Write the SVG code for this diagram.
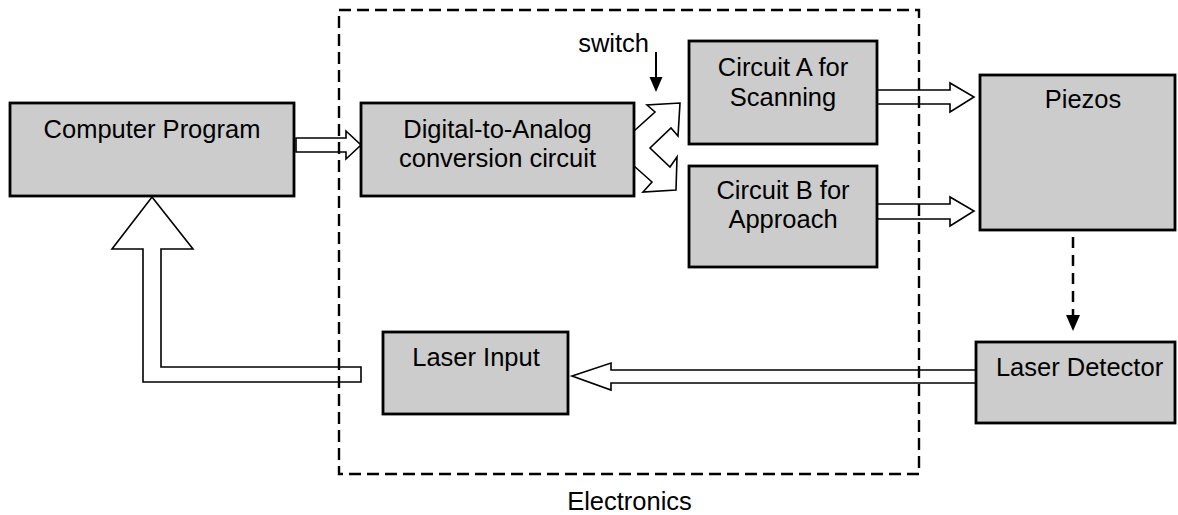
<svg xmlns="http://www.w3.org/2000/svg" width="1178" height="515" viewBox="0 0 1178 515">
<style>
.box{fill:#cccccc;stroke:#000;stroke-width:2.8}
.blk{fill:#fff;stroke:#000;stroke-width:1.6;stroke-linejoin:miter}
.t{font-family:"Liberation Sans",Arial,sans-serif;font-size:25.5px;fill:#000;text-anchor:middle}
.dash{fill:none;stroke:#000;stroke-width:2.4;stroke-dasharray:12 6}
</style>
<rect width="1178" height="515" fill="#fff"/>
<g id="connectors">
<polygon class="blk" points="296,138 346,138 346,131 361,145 346,159 346,152 296,152"/>
<polygon class="blk" points="634,131 655,112 647,105 680,103 678,136 671,128 650,148 670,167 677,157 676,190 643,192 652,182 634,166"/>
<polygon class="blk" points="877,90 950,90 950,83 974,97 950,112 950,104 877,104"/>
<polygon class="blk" points="877,204 950,204 950,197 974,211 950,226 950,219 877,219"/>
<polygon class="blk" points="976,370 611,370 611,363 572,376 611,390 611,383 976,383"/>
<polygon class="blk" points="152,197 193,249 161,249 161,367 361,367 361,382 143,382 143,249 112,249"/>
<line x1="656" y1="52" x2="656" y2="78" stroke="#000" stroke-width="2"/>
<polygon points="649.5,77 662.5,77 656,92" fill="#000"/>
<line x1="1073" y1="237" x2="1073" y2="315" stroke="#000" stroke-width="2.5" stroke-dasharray="11 7"/>
<polygon points="1066,315 1080,315 1073,331" fill="#000"/>
</g>
<g id="electronics">
<rect class="dash" x="339" y="10" width="580" height="464"/>
<text class="t" x="629.5" y="510">Electronics</text>
</g>
<g id="switch-label">
<text class="t" x="649" y="52" style="text-anchor:end">switch</text>
</g>
<g id="computer-program">
<rect class="box" x="10" y="103" width="284" height="93"/>
<text class="t" x="152" y="138">Computer Program</text>
</g>
<g id="dac">
<rect class="box" x="361" y="103" width="273" height="93"/>
<text class="t" x="497.5" y="138">Digital-to-Analog</text>
<text class="t" x="497.5" y="167">conversion circuit</text>
</g>
<g id="circuit-a">
<rect class="box" x="689" y="41" width="188" height="103"/>
<text class="t" x="783" y="76">Circuit A for</text>
<text class="t" x="783" y="105.5">Scanning</text>
</g>
<g id="circuit-b">
<rect class="box" x="689" y="166" width="188" height="101"/>
<text class="t" x="783" y="199">Circuit B for</text>
<text class="t" x="783" y="228">Approach</text>
</g>
<g id="piezos">
<rect class="box" x="980" y="75" width="195" height="155"/>
<text class="t" x="1083" y="108">Piezos</text>
</g>
<g id="laser-detector">
<rect class="box" x="976" y="342" width="199" height="81"/>
<text class="t" x="1079.5" y="376">Laser Detector</text>
</g>
<g id="laser-input">
<rect class="box" x="383" y="332" width="185" height="82"/>
<text class="t" x="476" y="366">Laser Input</text>
</g>
</svg>
